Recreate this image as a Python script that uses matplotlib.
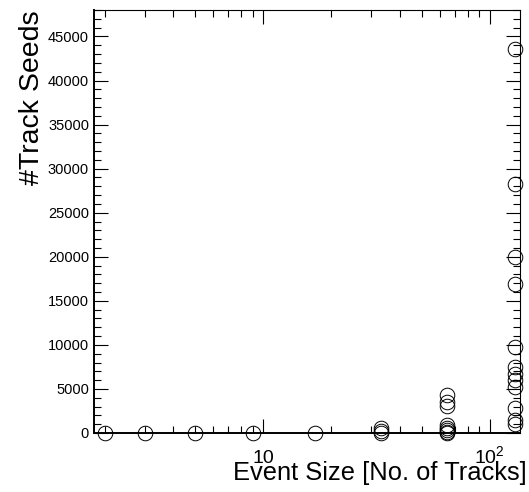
import matplotlib
matplotlib.use("Agg")
import matplotlib.pyplot as plt
from matplotlib.ticker import FixedLocator, MultipleLocator, NullFormatter

# ROOT-ish look: Helvetica-like font, inward ticks on every side
plt.rcParams['font.family'] = ['Liberation Sans', 'DejaVu Sans']
plt.rcParams['mathtext.fontset'] = 'custom'
plt.rcParams['mathtext.rm'] = 'Liberation Sans'

# event size (no. of tracks) and number of track seeds, one entry per event
event_size = [2, 3, 5, 9, 17,
              33, 33, 33,
              65, 65, 65, 65, 65, 65, 65, 65,
              129, 129, 129, 129, 129, 129, 129, 129, 129, 129, 129, 129]
n_seeds = [0, 0, 0, 0, 30,
           0, 250, 550,
           4300, 3500, 3050, 900, 600, 300, 100, 0,
           43600, 28200, 20000, 16900, 9800, 7500, 6700, 6000, 5200, 2800, 1500, 1000]

x_major = [10, 100]
x_major_labels = ['10', r'$\mathregular{10^{2}}$']
x_minor = [2, 3, 4, 5, 6, 7, 8, 9, 20, 30, 40, 50, 60, 70, 80, 90]

fig = plt.figure(figsize=(5.29, 4.92), dpi=100)
ax = fig.add_axes([94 / 529, 59 / 492, 426 / 529, 423 / 492])

ax.plot(event_size, n_seeds, linestyle='none', marker='o', markersize=10.5,
        markerfacecolor='none', markeredgecolor='black', markeredgewidth=0.7,
        clip_on=False, zorder=3)

ax.set_xscale('log')
ax.set_xlim(1.79, 136)
ax.set_ylim(0, 48000)

ax.xaxis.set_major_locator(FixedLocator(x_major))
ax.set_xticklabels(x_major_labels)
ax.xaxis.set_minor_locator(FixedLocator(x_minor))
ax.xaxis.set_minor_formatter(NullFormatter())
ax.yaxis.set_major_locator(MultipleLocator(5000))
ax.yaxis.set_minor_locator(MultipleLocator(1000))

ax.tick_params(which='both', direction='in', top=True, right=True, width=0.8)
ax.tick_params(which='major', length=10)
ax.tick_params(which='minor', length=5)
ax.tick_params(axis='y', labelsize=10.5, pad=3.6)
ax.tick_params(axis='x', labelsize=14, pad=21.6)

for side in ['top', 'right']:
    ax.spines[side].set_linewidth(0.8)
for side in ['bottom', 'left']:
    ax.spines[side].set_linewidth(1.4)

ax.set_ylabel('#Track Seeds', fontsize=20.5)
ax.yaxis.label.set(rotation_mode='default', ha='right', va='top')
ax.yaxis.set_label_coords((45 - 94) / 426, 1.0)

ax.set_xlabel('Event Size [No. of Tracks]', fontsize=18.4)
ax.xaxis.label.set(ha='right', va='baseline')
ax.xaxis.set_label_coords((527 - 94) / 426, -(480 - 433) / 423)

for t in ax.xaxis.get_major_ticks():
    t.label1.set_va('baseline')

fig.savefig('out.png', dpi=100)
